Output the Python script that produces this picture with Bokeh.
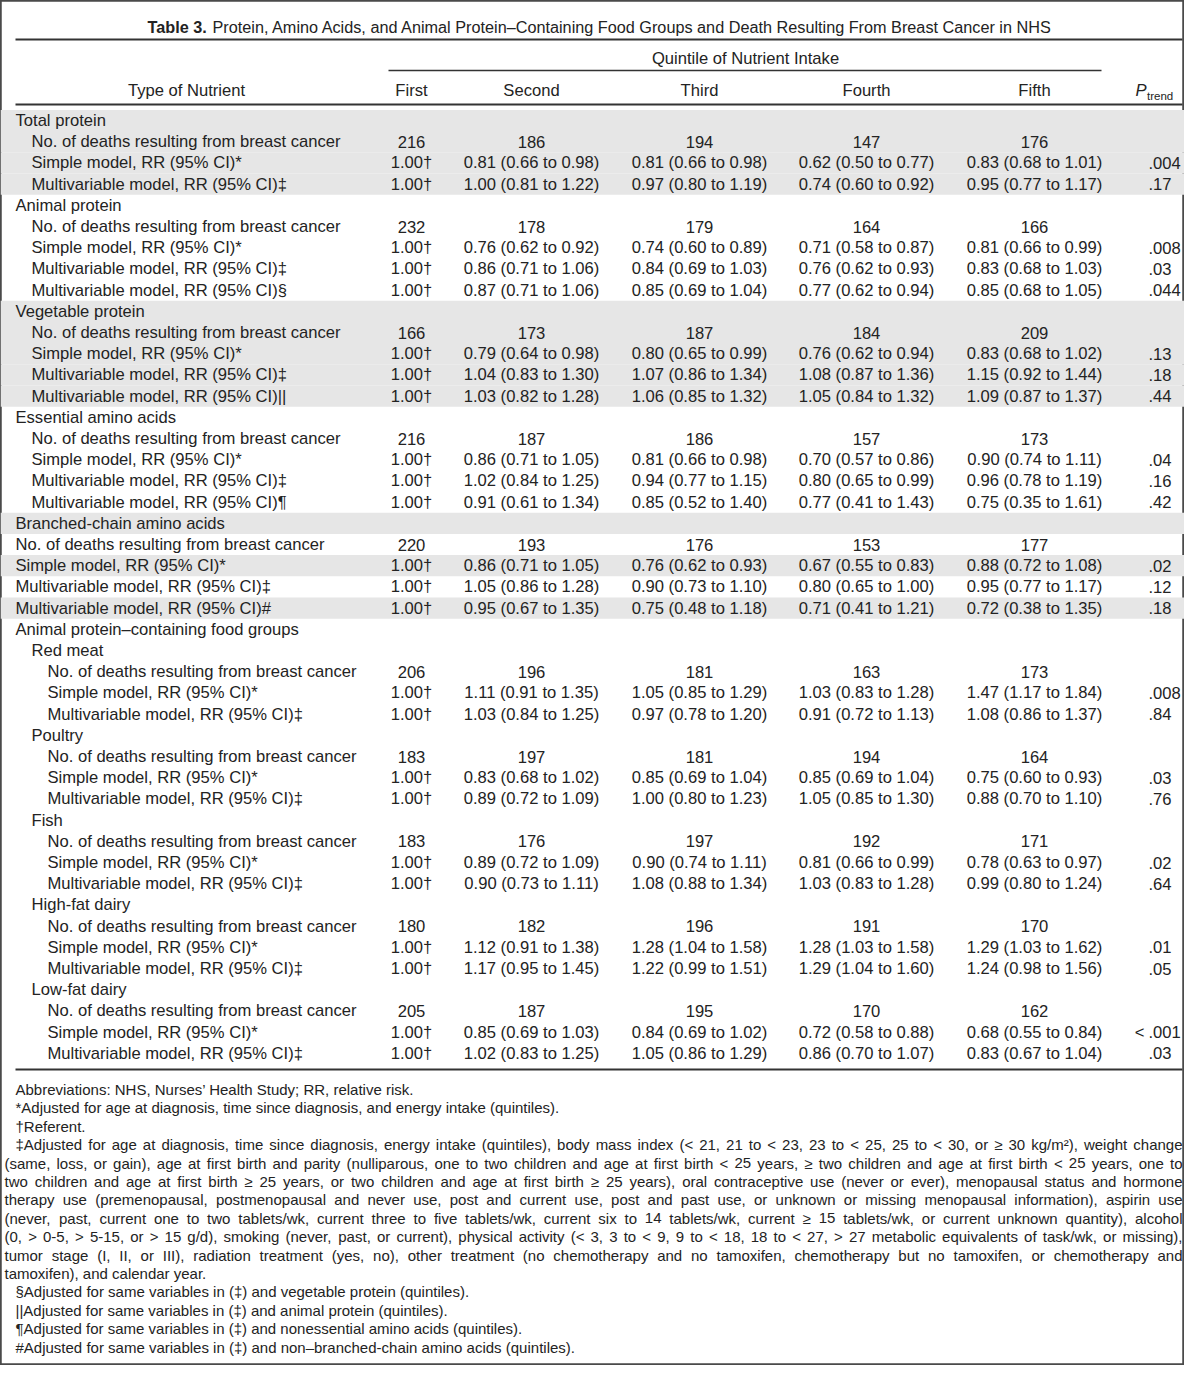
from bokeh.plotting import figure
from bokeh.models import Range1d
from bokeh.embed import file_html
from bokeh.resources import INLINE
from bokeh.core.properties import value

# ---------------- data ----------------
title_bold = "Table 3."
title_rest = "Protein, Amino Acids, and Animal Protein\u2013Containing Food Groups and Death Resulting From Breast Cancer in NHS"
spanner_label = "Quintile of Nutrient Intake"
stub_header = "Type of Nutrient"
quintile_names = ["First", "Second", "Third", "Fourth", "Fifth"]

ND = "No. of deaths resulting from breast cancer"
SM = "Simple model, RR (95% CI)*"
MV = "Multivariable model, RR (95% CI)"

row_labels = [
    "Total protein", ND, SM, MV + "\u2021",
    "Animal protein", ND, SM, MV + "\u2021", MV + "\u00a7",
    "Vegetable protein", ND, SM, MV + "\u2021", MV + "||",
    "Essential amino acids", ND, SM, MV + "\u2021", MV + "\u00b6",
    "Branched-chain amino acids", ND, SM, MV + "\u2021", MV + "#",
    "Animal protein\u2013containing food groups",
    "Red meat", ND, SM, MV + "\u2021",
    "Poultry", ND, SM, MV + "\u2021",
    "Fish", ND, SM, MV + "\u2021",
    "High-fat dairy", ND, SM, MV + "\u2021",
    "Low-fat dairy", ND, SM, MV + "\u2021",
]
row_level = [0, 1, 1, 1,
             0, 1, 1, 1, 1,
             0, 1, 1, 1, 1,
             0, 1, 1, 1, 1,
             0, 0, 0, 0, 0,
             0,
             1, 2, 2, 2,
             1, 2, 2, 2,
             1, 2, 2, 2,
             1, 2, 2, 2,
             1, 2, 2, 2]
row_shaded = [1, 1, 1, 1,
              0, 0, 0, 0, 0,
              1, 1, 1, 1, 1,
              0, 0, 0, 0, 0,
              1, 0, 1, 0, 1,
              0,
              0, 0, 0, 0,
              0, 0, 0, 0,
              0, 0, 0, 0,
              0, 0, 0, 0,
              0, 0, 0, 0]
R = "1.00\u2020"
q1 = ["", "216", R, R,
      "", "232", R, R, R,
      "", "166", R, R, R,
      "", "216", R, R, R,
      "", "220", R, R, R,
      "",
      "", "206", R, R,
      "", "183", R, R,
      "", "183", R, R,
      "", "180", R, R,
      "", "205", R, R]
q2 = ["", "186", "0.81 (0.66 to 0.98)", "1.00 (0.81 to 1.22)",
      "", "178", "0.76 (0.62 to 0.92)", "0.86 (0.71 to 1.06)", "0.87 (0.71 to 1.06)",
      "", "173", "0.79 (0.64 to 0.98)", "1.04 (0.83 to 1.30)", "1.03 (0.82 to 1.28)",
      "", "187", "0.86 (0.71 to 1.05)", "1.02 (0.84 to 1.25)", "0.91 (0.61 to 1.34)",
      "", "193", "0.86 (0.71 to 1.05)", "1.05 (0.86 to 1.28)", "0.95 (0.67 to 1.35)",
      "",
      "", "196", "1.11 (0.91 to 1.35)", "1.03 (0.84 to 1.25)",
      "", "197", "0.83 (0.68 to 1.02)", "0.89 (0.72 to 1.09)",
      "", "176", "0.89 (0.72 to 1.09)", "0.90 (0.73 to 1.11)",
      "", "182", "1.12 (0.91 to 1.38)", "1.17 (0.95 to 1.45)",
      "", "187", "0.85 (0.69 to 1.03)", "1.02 (0.83 to 1.25)"]
q3 = ["", "194", "0.81 (0.66 to 0.98)", "0.97 (0.80 to 1.19)",
      "", "179", "0.74 (0.60 to 0.89)", "0.84 (0.69 to 1.03)", "0.85 (0.69 to 1.04)",
      "", "187", "0.80 (0.65 to 0.99)", "1.07 (0.86 to 1.34)", "1.06 (0.85 to 1.32)",
      "", "186", "0.81 (0.66 to 0.98)", "0.94 (0.77 to 1.15)", "0.85 (0.52 to 1.40)",
      "", "176", "0.76 (0.62 to 0.93)", "0.90 (0.73 to 1.10)", "0.75 (0.48 to 1.18)",
      "",
      "", "181", "1.05 (0.85 to 1.29)", "0.97 (0.78 to 1.20)",
      "", "181", "0.85 (0.69 to 1.04)", "1.00 (0.80 to 1.23)",
      "", "197", "0.90 (0.74 to 1.11)", "1.08 (0.88 to 1.34)",
      "", "196", "1.28 (1.04 to 1.58)", "1.22 (0.99 to 1.51)",
      "", "195", "0.84 (0.69 to 1.02)", "1.05 (0.86 to 1.29)"]
q4 = ["", "147", "0.62 (0.50 to 0.77)", "0.74 (0.60 to 0.92)",
      "", "164", "0.71 (0.58 to 0.87)", "0.76 (0.62 to 0.93)", "0.77 (0.62 to 0.94)",
      "", "184", "0.76 (0.62 to 0.94)", "1.08 (0.87 to 1.36)", "1.05 (0.84 to 1.32)",
      "", "157", "0.70 (0.57 to 0.86)", "0.80 (0.65 to 0.99)", "0.77 (0.41 to 1.43)",
      "", "153", "0.67 (0.55 to 0.83)", "0.80 (0.65 to 1.00)", "0.71 (0.41 to 1.21)",
      "",
      "", "163", "1.03 (0.83 to 1.28)", "0.91 (0.72 to 1.13)",
      "", "194", "0.85 (0.69 to 1.04)", "1.05 (0.85 to 1.30)",
      "", "192", "0.81 (0.66 to 0.99)", "1.03 (0.83 to 1.28)",
      "", "191", "1.28 (1.03 to 1.58)", "1.29 (1.04 to 1.60)",
      "", "170", "0.72 (0.58 to 0.88)", "0.86 (0.70 to 1.07)"]
q5 = ["", "176", "0.83 (0.68 to 1.01)", "0.95 (0.77 to 1.17)",
      "", "166", "0.81 (0.66 to 0.99)", "0.83 (0.68 to 1.03)", "0.85 (0.68 to 1.05)",
      "", "209", "0.83 (0.68 to 1.02)", "1.15 (0.92 to 1.44)", "1.09 (0.87 to 1.37)",
      "", "173", "0.90 (0.74 to 1.11)", "0.96 (0.78 to 1.19)", "0.75 (0.35 to 1.61)",
      "", "177", "0.88 (0.72 to 1.08)", "0.95 (0.77 to 1.17)", "0.72 (0.38 to 1.35)",
      "",
      "", "173", "1.47 (1.17 to 1.84)", "1.08 (0.86 to 1.37)",
      "", "164", "0.75 (0.60 to 0.93)", "0.88 (0.70 to 1.10)",
      "", "171", "0.78 (0.63 to 0.97)", "0.99 (0.80 to 1.24)",
      "", "170", "1.29 (1.03 to 1.62)", "1.24 (0.98 to 1.56)",
      "", "162", "0.68 (0.55 to 0.84)", "0.83 (0.67 to 1.04)"]
p_trend = ["", "", ".004", ".17",
           "", "", ".008", ".03", ".044",
           "", "", ".13", ".18", ".44",
           "", "", ".04", ".16", ".42",
           "", "", ".02", ".12", ".18",
           "",
           "", "", ".008", ".84",
           "", "", ".03", ".76",
           "", "", ".02", ".64",
           "", "", ".01", ".05",
           "", "", "< .001", ".03"]

footnote_lines = [
    "Abbreviations: NHS, Nurses\u2019 Health Study; RR, relative risk.",
    "*Adjusted for age at diagnosis, time since diagnosis, and energy intake (quintiles).",
    "\u2020Referent.",
    "\u2021Adjusted for age at diagnosis, time since diagnosis, energy intake (quintiles), body mass index (< 21, 21 to < 23, 23 to < 25, 25 to < 30, or \u2265 30 kg/m\u00b2), weight change",
    "(same, loss, or gain), age at first birth and parity (nulliparous, one to two children and age at first birth < 25 years, \u2265 two children and age at first birth < 25 years, one to",
    "two children and age at first birth \u2265 25 years, or two children and age at first birth \u2265 25 years), oral contraceptive use (never or ever), menopausal status and hormone",
    "therapy use (premenopausal, postmenopausal and never use, post and current use, post and past use, or unknown or missing menopausal information), aspirin use",
    "(never, past, current one to two tablets/wk, current three to five tablets/wk, current six to 14 tablets/wk, current \u2265 15 tablets/wk, or current unknown quantity), alcohol",
    "(0, > 0-5, > 5-15, or > 15 g/d), smoking (never, past, or current), physical activity (< 3, 3 to < 9, 9 to < 18, 18 to < 27, > 27 metabolic equivalents of task/wk, or missing),",
    "tumor stage (I, II, or III), radiation treatment (yes, no), other treatment (no chemotherapy and no tamoxifen, chemotherapy but no tamoxifen, or chemotherapy and",
    "tamoxifen), and calendar year.",
    "\u00a7Adjusted for same variables in (\u2021) and vegetable protein (quintiles).",
    "||Adjusted for same variables in (\u2021) and animal protein (quintiles).",
    "\u00b6Adjusted for same variables in (\u2021) and nonessential amino acids (quintiles).",
    "#Adjusted for same variables in (\u2021) and non\u2013branched-chain amino acids (quintiles).",
]
footnote_first = [1, 1, 1, 1, 0, 0, 0, 0, 0, 0, 0, 1, 1, 1, 1]
footnote_justify = [0, 0, 0, 1, 1, 1, 1, 1, 1, 1, 0, 0, 0, 0, 0]

# ---------------- layout / style ----------------
FONT = "Liberation Sans"
TXT = "#232323"
FS = 16.6
FN_FS = 15.0
W_PX, H_PX = 1184, 1365
ROW_Y0, ROW_H = 120.0, 21.2
LEVEL_X = [15, 31, 47]
COL_X = [411, 531, 699, 866, 1034]
P_X = 1148
FN_Y0, FN_H = 1089.0, 18.4

# Arial / Liberation Sans advance widths (1/1000 em)
_W = {' ': 278, '!': 278, '"': 355, '#': 556, '$': 556, '%': 889, '&': 667, "'": 191,
      '(': 333, ')': 333, '*': 389, '+': 584, ',': 278, '-': 333, '.': 278, '/': 278,
      ':': 278, ';': 278, '<': 584, '=': 584, '>': 584, '?': 556, '|': 260,
      'A': 667, 'B': 667, 'C': 722, 'D': 722, 'E': 667, 'F': 611, 'G': 778, 'H': 722,
      'I': 278, 'J': 500, 'K': 667, 'L': 556, 'M': 833, 'N': 722, 'O': 778, 'P': 667,
      'Q': 778, 'R': 722, 'S': 667, 'T': 611, 'U': 722, 'V': 667, 'W': 944, 'X': 667,
      'Y': 667, 'Z': 611,
      'a': 556, 'b': 556, 'c': 500, 'd': 556, 'e': 556, 'f': 278, 'g': 556, 'h': 556,
      'i': 222, 'j': 222, 'k': 500, 'l': 222, 'm': 833, 'n': 556, 'o': 556, 'p': 556,
      'q': 556, 'r': 333, 's': 500, 't': 278, 'u': 556, 'v': 500, 'w': 722, 'x': 500,
      'y': 500, 'z': 500,
      '\u2265': 549, '\u2013': 556, '\u2020': 556, '\u2021': 556, '\u00a7': 556,
      '\u00b6': 537, '\u2019': 222, '\u00b2': 333}
_WB = {'T': 611, 'a': 556, 'b': 611, 'l': 278, 'e': 556, ' ': 278, '3': 556, '.': 278}


def tw(s, bold=False):
    tab = _WB if bold else _W
    return sum(tab.get(c, 556) for c in s) / 1000.0


p = figure(width=W_PX, height=H_PX, x_range=Range1d(0, W_PX), y_range=Range1d(H_PX, 0),
           output_backend="svg", toolbar_location=None, x_axis_type=None, y_axis_type=None,
           min_border=0, background_fill_color="white", border_fill_color="white")
p.grid.visible = False
p.outline_line_color = "#4a4a4a"
p.outline_line_width = 2.5

# shaded rows
row_y = [ROW_Y0 + i * ROW_H for i in range(len(row_labels))]
sh_top = [y - ROW_H / 2 for y, s in zip(row_y, row_shaded) if s]
sh_bot = [y + ROW_H / 2 for y, s in zip(row_y, row_shaded) if s]
p.quad(left=0, right=W_PX, top=sh_top, bottom=sh_bot, fill_color="#e6e6e6", line_color=None)

# rules
p.segment(x0=[15, 15, 15], y0=[39, 104, 1069], x1=[1182, 1182, 1182], y1=[39, 104, 1069],
          line_color="#333333", line_width=2)
p.segment(x0=[388], y0=[70], x1=[1101], y1=[70], line_color="#333333", line_width=1.5)


def txt(x, y, t, size=FS, align="left", style="normal", color=TXT):
    p.text(x=x, y=y, text=t, text_font=value(FONT), text_font_size="%.2fpx" % size,
           text_align=align, text_baseline="middle", text_font_style=style, text_color=color)


# title
t_fs = 906.0 / (tw(title_bold + " ", True) + tw(title_rest))
t_x = 147
txt([t_x], [26], [title_bold], size=t_fs, style="bold")
txt([t_x + tw(title_bold + " ", True) * t_fs], [26], [title_rest], size=t_fs)

# headers
txt([745], [58], [spanner_label], align="center")
txt([186], [90], [stub_header], align="center")
txt(COL_X, [90] * 5, quintile_names, align="center")
txt([1135], [90], ["P"], style="italic")
txt([1146.5], [95], ["trend"], size=11.5)

# stub labels
txt([LEVEL_X[l] for l in row_level], row_y, row_labels)

# value columns
for cx, col in zip(COL_X, [q1, q2, q3, q4, q5]):
    ys = [y for y, v in zip(row_y, col) if v]
    vs = [v for v in col if v]
    txt([cx] * len(vs), ys, vs, align="center")

# P trend (decimal aligned)
pm = [(y, v) for y, v in zip(row_y, p_trend) if v]
main_y = [y for y, v in pm]
main_t = [v.split(" ")[-1] for y, v in pm]
txt([P_X] * len(main_t), main_y, main_t)
pre = [(y, v.split(" ")[0]) for y, v in pm if " " in v]
if pre:
    txt([P_X - 4] * len(pre), [a for a, b in pre], [b for a, b in pre], align="right")

# footnotes (with justification)
RIGHT = 1182.0
for i, line in enumerate(footnote_lines):
    y = FN_Y0 + i * FN_H
    x_start = 15.0 if footnote_first[i] else 4.0
    if not footnote_justify[i]:
        txt([x_start], [y], [line], size=FN_FS)
        continue
    words = line.split(" ")
    target = RIGHT - x_start
    natural = tw(line) * FN_FS
    fs = FN_FS if natural <= target else FN_FS * target / natural * 0.995
    ww = [tw(w) * fs for w in words]
    gap = (target - sum(ww)) / (len(words) - 1)
    xs = []
    cur = x_start
    for w in ww:
        xs.append(cur)
        cur += w + gap
    txt(xs, [y] * len(words), words, size=fs)

open("out.html", "w").write(file_html(p, INLINE))
